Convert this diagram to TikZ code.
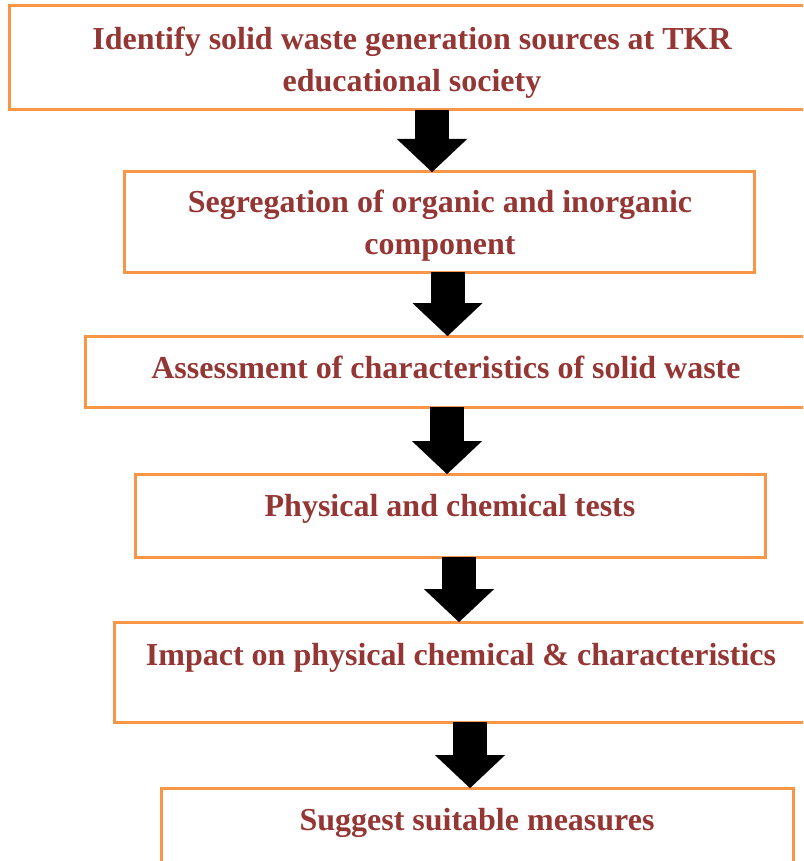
\documentclass[tikz,border=0pt]{standalone}
\usepackage{fontspec}
\setmainfont{Liberation Serif}
\usepackage{xcolor}
\usetikzlibrary{positioning,arrows.meta}

\definecolor{boxorange}{HTML}{F79646}
\definecolor{textred}{HTML}{943634}

\begin{document}
\begin{tikzpicture}[x=1pt, y=-1pt,
  stepbox/.style={draw=boxorange, line width=3pt, inner sep=0pt, outer sep=0pt, anchor=north west},
  steptext/.style={text=textred, font=\bfseries\fontsize{32}{42}\selectfont, align=center, inner sep=0pt},
  bigarrow/.style={line width=34pt, -{Triangle[width=70pt, length=33pt, line width=0.01pt]}}]
\useasboundingbox (0,0) rectangle (803,861);
\clip (0,0) rectangle (803,861);
% Draw the boxes
\node[stepbox, minimum width=806pt, minimum height=104pt] (b1) at (9,6) {};
\node[stepbox, minimum width=630pt, minimum height=100pt] (b2) at (124,172) {};
\node[stepbox, minimum width=725pt, minimum height=71pt] (b3) at (85,336) {};
\node[stepbox, minimum width=630pt, minimum height=83pt] (b4) at (135,474) {};
\node[stepbox, minimum width=696pt, minimum height=100pt] (b5) at (114,622) {};
\node[stepbox, minimum width=632pt, minimum height=100pt] (b6) at (161,788) {};
% Labels
\node[steptext] (t1) at (412,63) {Identify solid waste generation sources at TKR\\educational society};
\node[steptext] (t2) at (440,226) {Segregation of organic and inorganic\\component};
\node[steptext, anchor=base] (t3) at (446,378) {Assessment of characteristics of solid waste};
\node[steptext, anchor=base] (t4) at (450,516) {Physical and chemical tests};
\node[steptext, anchor=base] (t5) at (461,665) {Impact on physical chemical \& characteristics};
\node[steptext, anchor=base] (t6) at (477,830) {Suggest suitable measures};
% Draw the arrows
\draw[bigarrow] ([xshift=-7pt]b2.north |- b1.south) -- ([xshift=-7pt]b2.north);
\draw[bigarrow] (b3.north |- b2.south) -- (b3.north);
\draw[bigarrow] ([xshift=-3pt]b4.north |- b3.south) -- ([xshift=-3pt]b4.north);
\draw[bigarrow] ([xshift=-3pt]b5.north |- b4.south) -- ([xshift=-3pt]b5.north);
\draw[bigarrow] ([xshift=-7pt]b6.north |- b5.south) -- ([xshift=-7pt]b6.north);
\end{tikzpicture}
\end{document}
